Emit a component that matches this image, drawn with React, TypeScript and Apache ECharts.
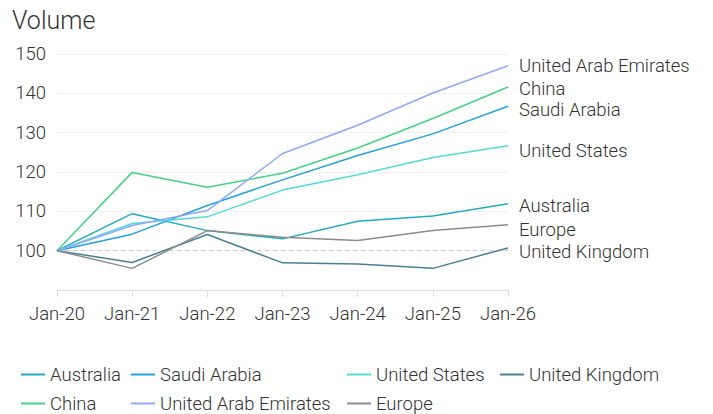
import React, { useEffect, useRef } from "react";
import * as echarts from "echarts";

const categories = ["Jan-20", "Jan-21", "Jan-22", "Jan-23", "Jan-24", "Jan-25", "Jan-26"];

const australia = [100, 109.4, 105.1, 103.0, 107.5, 108.8, 111.9];
const saudiArabia = [100, 104.2, 111.5, 118.0, 124.2, 129.7, 136.7];
const unitedStates = [100, 106.9, 108.6, 115.4, 119.3, 123.7, 126.7];
const unitedKingdom = [100, 97.0, 104.1, 96.9, 96.6, 95.5, 100.7];
const china = [100, 119.9, 116.1, 119.7, 126.1, 133.6, 141.6];
const uae = [100, 106.4, 110.2, 124.7, 131.9, 140.1, 147.0];
const europe = [100, 95.5, 105.1, 103.4, 102.6, 105.1, 106.6];

const seriesNames = [
  "Australia",
  "Saudi Arabia",
  "United States",
  "United Kingdom",
  "China",
  "United Arab Emirates",
  "Europe",
];
const seriesValues = [australia, saudiArabia, unitedStates, unitedKingdom, china, uae, europe];
const seriesColors = ["#22aac2", "#23a0de", "#52dada", "#4a7f96", "#44d28a", "#8fa8f8", "#8c8c8c"];
const labelOffsets = [2, 3.5, 5, 4, 1.5, 0, 5];

const legendColumns = [
  { left: 21, names: ["Australia", "China"] },
  { left: 131, names: ["Saudi Arabia", "United Arab Emirates"] },
  { left: 347, names: ["United States", "Europe"] },
  { left: 500, names: ["United Kingdom"] },
];

const FONT = "Roboto, 'Noto Sans', sans-serif";
const FS = 18.5;
const FW = 300;

export default function App() {
  const ref = useRef<HTMLDivElement>(null);
  useEffect(() => {
    document.body.style.margin = "0";
    if (!ref.current) return;
    const chart = echarts.init(ref.current, undefined, { renderer: "svg" });
    const series: any[] = seriesNames.map((name, i) => ({
      name,
      type: "line",
      data: seriesValues[i],
      symbol: "none",
      lineStyle: { width: 1.5, color: seriesColors[i] },
      itemStyle: { color: seriesColors[i] },
      endLabel: {
        show: true,
        formatter: "{a}",
        color: "#333",
        fontSize: FS,
        fontWeight: FW,
        fontFamily: FONT,
        distance: 11,
        offset: [0, labelOffsets[i]],
      },
      z: 3,
    }));
    series[0].markLine = {
      silent: true,
      symbol: "none",
      label: { show: false },
      lineStyle: { type: [4, 4], color: "#c8c8c8", width: 1 },
      data: [{ yAxis: 100 }],
      z: 1,
    };
    chart.setOption({
      animation: false,
      textStyle: { fontFamily: FONT },
      title: {
        text: "Volume",
        left: 7,
        top: 3,
        padding: [5, 5],
        textStyle: { fontSize: 25, fontWeight: FW, color: "#333", fontFamily: FONT },
      },
      grid: { left: 57, right: 205, top: 54, bottom: 124, containLabel: false },
      legend: legendColumns.map((c) => ({
        orient: "vertical",
        left: c.left,
        top: 365,
        height: 49,
        padding: 0,
        data: c.names,
        icon: "rect",
        itemWidth: 24,
        itemHeight: 2,
        itemGap: 10,
        textStyle: { fontSize: FS, fontWeight: FW, color: "#333", lineHeight: 18, fontFamily: FONT },
        selectedMode: false,
      })),
      xAxis: {
        type: "category",
        data: categories,
        boundaryGap: false,
        axisLine: { show: true, lineStyle: { color: "#dcdcdc" } },
        axisTick: { show: true, length: 7, lineStyle: { color: "#dcdcdc" } },
        axisLabel: { fontSize: FS, fontWeight: FW, color: "#333", margin: 14, fontFamily: FONT },
        splitLine: { show: false },
      },
      yAxis: {
        type: "value",
        min: 90,
        max: 150,
        interval: 10,
        axisLine: { show: false },
        axisTick: { show: false },
        axisLabel: {
          fontSize: FS,
          fontWeight: FW,
          color: "#333",
          margin: 11,
          fontFamily: FONT,
          formatter: (v: number) => (v === 90 ? "" : String(v)),
        },
        splitLine: { show: true, lineStyle: { color: "#f0f0f0" } },
      },
      series,
    });
    return () => chart.dispose();
  }, []);
  return <div ref={ref} style={{ width: 713, height: 414 }} />;
}
